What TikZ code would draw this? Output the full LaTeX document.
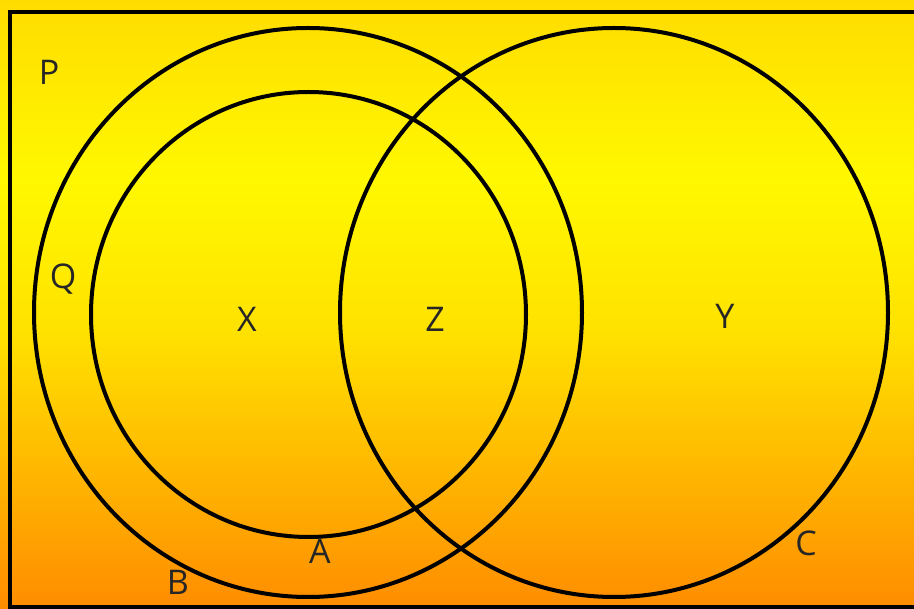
\documentclass[tikz,border=0pt]{standalone}
\usepackage{fontspec}
\setmainfont{Open Sans}
\usetikzlibrary{shapes.geometric}
\definecolor{ytop}{RGB}{255,220,0}
\definecolor{ybright}{RGB}{255,248,0}
\definecolor{ymid}{RGB}{255,226,0}
\definecolor{ylow}{RGB}{255,180,0}
\definecolor{ybot}{RGB}{255,140,0}
\pgfdeclareverticalshading{bggrad}{100bp}{%
  color(0bp)=(ybot); color(25bp)=(ybot); color(35.6bp)=(ylow);
  color(47.9bp)=(ymid); color(60.2bp)=(ybright); color(75bp)=(ytop); color(100bp)=(ytop)}
\tikzset{
  setline/.style={draw=black, line width=4pt},
  setshape/.style={setline, ellipse, inner sep=0pt, outer sep=0pt},
  lab/.style={font=\fontsize{34}{34}\selectfont, text=black!85, inner sep=0pt}
}
\begin{document}
\begin{tikzpicture}[x=1pt,y=-1pt]
\useasboundingbox (0,0) rectangle (914,609);
\clip (0,0) rectangle (914,609);
\shade[shading=bggrad] (0,0) rectangle (914,609);
\draw[setline] (10,12) rectangle (930,607);
\node[setshape, minimum width=548pt, minimum height=569pt] (B) at (308,312.5) {};
\node[setshape, minimum width=435pt, minimum height=445pt] (A) at (308.5,314.5) {};
\node[setshape, minimum width=548pt, minimum height=569pt] (C) at (614,312.5) {};
\node[lab] (P) at (49,72) {P};
\node[lab] (Q) at (63,279) {Q};
\node[lab] (X) at (247,319) {X};
\node[lab] (Z) at (435,319) {Z};
\node[lab] (Y) at (725,316) {Y};
\node[lab] (Al) at (320,551) {A};
\node[lab] (Bl) at (178,582) {B};
\node[lab] (Cl) at (806,543) {C};
\end{tikzpicture}
\end{document}
